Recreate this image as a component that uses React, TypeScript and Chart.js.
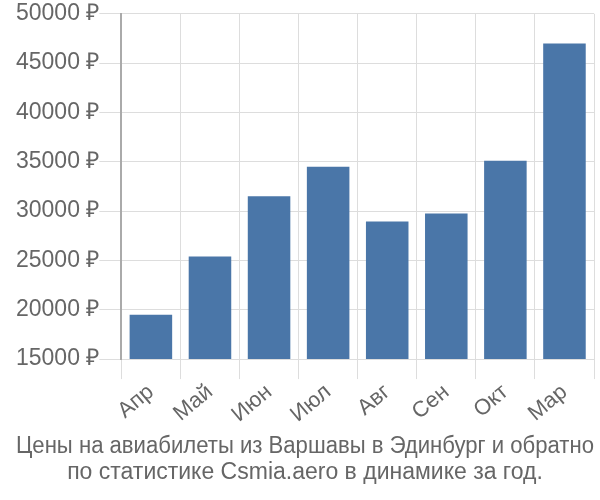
import React, { useEffect, useRef } from "react";
import { Chart, registerables } from "chart.js";

Chart.register(...registerables);

const months = ["Апр", "Май", "Июн", "Июл", "Авг", "Сен", "Окт", "Мар"];
const prices = [19500, 25400, 31500, 34500, 28950, 29750, 35100, 47000];
const titleLines = [
  "Цены на авиабилеты из Варшавы в Эдинбург и обратно",
  "по статистике Csmia.aero в динамике за год.",
];
const yMin = 15000;
const yMax = 50000;
const yStep = 5000;

export default function App() {
  const ref = useRef<HTMLCanvasElement | null>(null);
  useEffect(() => {
    if (!ref.current) return;
    const font = "'Liberation Sans', Arial, sans-serif";
    const chart = new Chart(ref.current, {
      type: "bar",
      data: {
        labels: months,
        datasets: [
          {
            data: prices,
            backgroundColor: "#4a76a8",
            borderWidth: 0,
          },
        ],
      },
      options: {
        animation: false,
        responsive: false,
        maintainAspectRatio: false,
        layout: { padding: { top: 9, right: 6, left: 16, bottom: 0 } },
        plugins: {
          legend: { display: false },
          tooltip: { enabled: false },
          title: {
            display: true,
            position: "bottom",
            text: titleLines,
            color: "#666",
            font: { family: font, size: 23, weight: "normal", lineHeight: 1.13 },
            padding: { top: 6, bottom: 14 },
          },
        },
        scales: {
          x: {
            grid: {
              color: "#dddddd",
              lineWidth: 1,
              tickLength: 20,
              offset: true,
            },
            border: { color: "#dddddd" },
            ticks: {
              color: "#666",
              font: { family: font, size: 22 },
              minRotation: 40,
              maxRotation: 40,
              padding: 0,
            },
          },
          y: {
            min: yMin,
            max: yMax,
            grid: { color: "#dddddd", lineWidth: 1, tickLength: 22 },
            border: { color: "#aaaaaa", width: 2 },
            ticks: {
              stepSize: yStep,
              color: "#666",
              font: { family: font, size: 23 },
              padding: 0,
              callback: (v: any) => `${v} ₽`,
            },
          },
        },
      },
    });
    return () => chart.destroy();
  }, []);
  return (
    <div style={{ position: "absolute", left: 0, top: 0, width: 600, height: 500 }}>
      <canvas ref={ref} width={600} height={500} style={{ width: 600, height: 500 }} />
    </div>
  );
}
